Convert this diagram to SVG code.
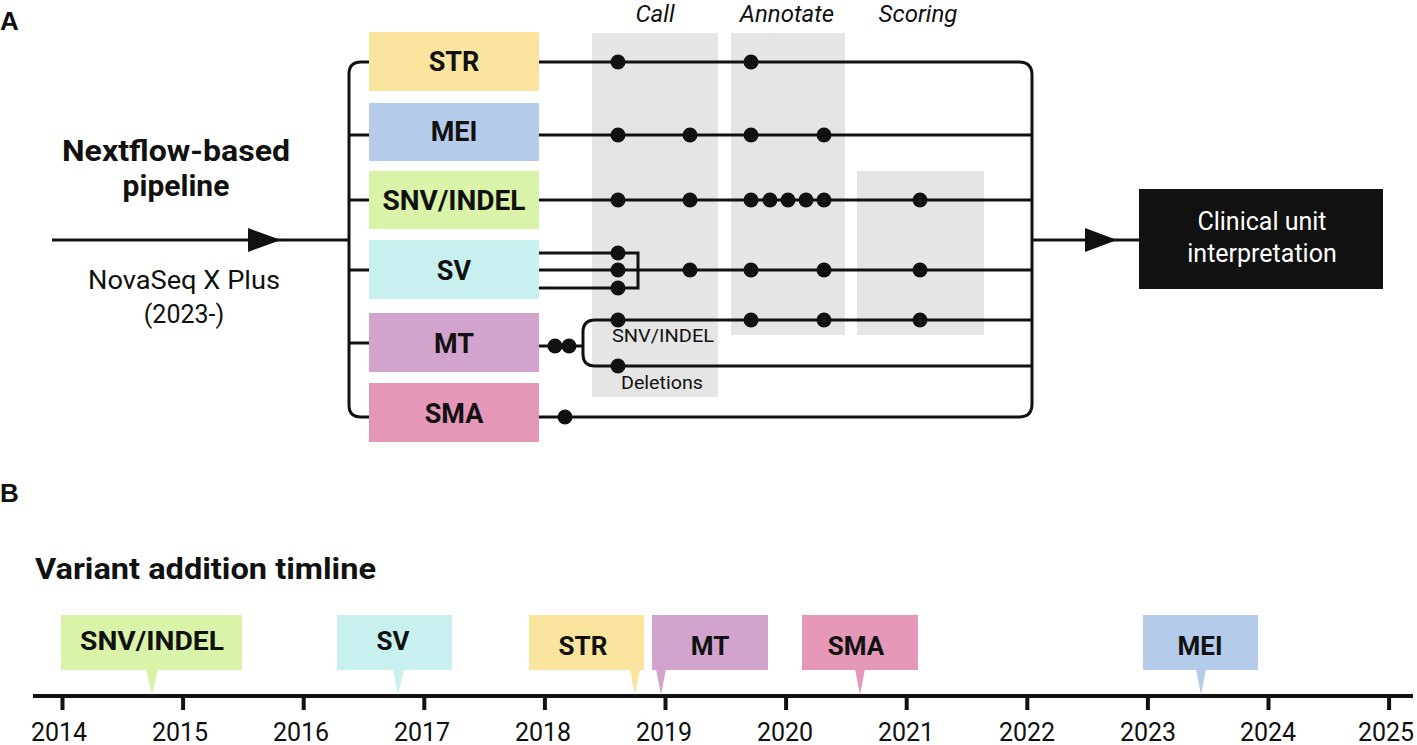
<svg xmlns="http://www.w3.org/2000/svg" width="1417" height="745" viewBox="0 0 1417 745">
<style>
  text { font-family: Roboto, "DejaVu Sans", sans-serif; fill: #111; }
  .lbl { font-family: "Liberation Sans", Arial, sans-serif; font-weight: bold; font-size: 26px; }
  .box { font-weight: bold; font-size: 27px; text-anchor: middle; }
  .tbox { font-weight: bold; font-size: 26px; text-anchor: middle; }
  .stage { font-style: italic; font-size: 24px; text-anchor: middle; }
  .small { font-size: 18px; }
  .year { font-size: 25px; text-anchor: middle; }
  .ln { fill: none; stroke: #111; stroke-width: 3; }
  .dot { fill: #111; }
  .panel { fill: #e5e5e5; }
  .str { fill: #fbe49d; } .mei { fill: #b4cbea; } .snv { fill: #d9f3a8; }
  .sv { fill: #c8f0ef; } .mt { fill: #d2a4cd; } .sma { fill: #e497b7; }
</style>
<rect width="1417" height="745" fill="#fff"/>

<!-- Panel A -->
<text class="lbl" x="0" y="30">A</text>

<g id="stage-panels">
  <rect class="panel" x="592" y="33" width="126" height="364"/>
  <rect class="panel" x="731" y="33" width="114" height="302"/>
  <rect class="panel" x="857" y="171" width="127" height="164"/>
  <text class="stage" x="655" y="22">Call</text>
  <text class="stage" x="787" y="22">Annotate</text>
  <text class="stage" x="918" y="22">Scoring</text>
</g>

<g id="pipeline-label">
  <text x="176" y="161" font-weight="bold" font-size="30" text-anchor="middle" textLength="228" lengthAdjust="spacingAndGlyphs">Nextflow-based</text>
  <text x="176" y="196" font-weight="bold" font-size="30" text-anchor="middle">pipeline</text>
  <text x="184" y="289" font-size="25" text-anchor="middle" textLength="192" lengthAdjust="spacingAndGlyphs">NovaSeq X Plus</text>
  <text x="184" y="323" font-size="25" text-anchor="middle">(2023-)</text>
</g>

<g id="connectors">
  <!-- input -->
  <path class="ln" d="M52,240 H349"/>
  <polygon points="248,228 281,240 248,252" fill="#111"/>
  <!-- left bracket -->
  <path class="ln" d="M369,62 H361 Q349,62 349,74 V405 Q349,417 361,417 H369"/>
  <path class="ln" d="M349,135 H369 M349,200 H369 M349,270 H369 M349,343 H369"/>
  <!-- STR -->
  <path class="ln" d="M539,62 H1019 Q1032,62 1032,75 V404 Q1032,417 1019,417 H539"/>
  <!-- MEI, SNV, SV -->
  <path class="ln" d="M539,135 H1032 M539,200 H1032 M539,270 H1032"/>
  <path class="ln" d="M539,253 H638 V288 H539"/>
  <!-- MT -->
  <path class="ln" d="M539,346 H583 M1032,320 H595 Q583,320 583,332 V354 Q583,366 595,366 H1032"/>
  <!-- output -->
  <path class="ln" d="M1032,240 H1139"/>
  <polygon points="1085,228 1117,240 1085,252" fill="#111"/>
  <!-- dots -->
  <g class="dot">
    <circle cx="618" cy="62" r="7.5"/><circle cx="751" cy="62" r="7.5"/>
    <circle cx="618" cy="135" r="7.5"/><circle cx="690" cy="135" r="7.5"/><circle cx="751" cy="135" r="7.5"/><circle cx="824" cy="135" r="7.5"/>
    <circle cx="618" cy="200" r="7.5"/><circle cx="690" cy="200" r="7.5"/><circle cx="751" cy="200" r="7.5"/><circle cx="770" cy="200" r="7.5"/><circle cx="788" cy="200" r="7.5"/><circle cx="806" cy="200" r="7.5"/><circle cx="824" cy="200" r="7.5"/><circle cx="920" cy="200" r="7.5"/>
    <circle cx="618" cy="253" r="7.5"/><circle cx="618" cy="270" r="7.5"/><circle cx="618" cy="288" r="7.5"/>
    <circle cx="690" cy="270" r="7.5"/><circle cx="751" cy="270" r="7.5"/><circle cx="824" cy="270" r="7.5"/><circle cx="920" cy="270" r="7.5"/>
    <circle cx="555" cy="346" r="7.5"/><circle cx="569" cy="346" r="7.5"/>
    <circle cx="618" cy="320" r="7.5"/><circle cx="751" cy="320" r="7.5"/><circle cx="824" cy="320" r="7.5"/><circle cx="920" cy="320" r="7.5"/>
    <circle cx="618" cy="366" r="7.5"/>
    <circle cx="565" cy="417" r="7.5"/>
  </g>
  <text class="small" x="612" y="342" textLength="102" lengthAdjust="spacingAndGlyphs">SNV/INDEL</text>
  <text class="small" x="621" y="389" textLength="82" lengthAdjust="spacingAndGlyphs">Deletions</text>
</g>

<g id="node-str"><rect class="str" x="369" y="32" width="170" height="59"/><text class="box" x="454" y="71">STR</text></g>
<g id="node-mei"><rect class="mei" x="369" y="103" width="170" height="58"/><text class="box" x="454" y="141">MEI</text></g>
<g id="node-snv"><rect class="snv" x="369" y="171" width="170" height="58"/><text class="box" x="454" y="210" textLength="143" lengthAdjust="spacingAndGlyphs">SNV/INDEL</text></g>
<g id="node-sv"><rect class="sv" x="369" y="240" width="170" height="59"/><text class="box" x="454" y="280">SV</text></g>
<g id="node-mt"><rect class="mt" x="369" y="313" width="170" height="59"/><text class="box" x="454" y="353">MT</text></g>
<g id="node-sma"><rect class="sma" x="369" y="383" width="170" height="59"/><text class="box" x="454" y="423">SMA</text></g>

<g id="node-clinical">
  <rect x="1139" y="189" width="244" height="100" fill="#111"/>
  <text x="1262" y="230" font-size="25" text-anchor="middle" style="fill:#fff">Clinical unit</text>
  <text x="1262" y="262" font-size="25" text-anchor="middle" style="fill:#fff">interpretation</text>
</g>

<!-- Panel B -->
<text class="lbl" x="0" y="502">B</text>
<text x="35" y="579" font-weight="bold" font-size="30" textLength="341" lengthAdjust="spacingAndGlyphs">Variant addition timline</text>

<g id="timeline-axis">
  <path d="M33,696 H1413" stroke="#111" stroke-width="4"/>
  <path stroke="#111" stroke-width="4" d="M62.5,696 V710 M183.1,696 V710 M303.7,696 V710 M424.3,696 V710 M544.9,696 V710 M665.5,696 V710 M786.1,696 V710 M906.7,696 V710 M1027.3,696 V710 M1147.9,696 V710 M1268.5,696 V710 M1389.1,696 V710"/>
  <text class="year" x="59" y="741">2014</text>
  <text class="year" x="180" y="741">2015</text>
  <text class="year" x="301" y="741">2016</text>
  <text class="year" x="422" y="741">2017</text>
  <text class="year" x="543" y="741">2018</text>
  <text class="year" x="664" y="741">2019</text>
  <text class="year" x="785" y="741">2020</text>
  <text class="year" x="906" y="741">2021</text>
  <text class="year" x="1027" y="741">2022</text>
  <text class="year" x="1148" y="741">2023</text>
  <text class="year" x="1268" y="741">2024</text>
  <text class="year" x="1386" y="741">2025</text>
</g>

<g id="t-snv"><rect class="snv" x="61" y="615" width="181" height="55"/><polygon class="snv" points="146,669 158,669 152,695"/><text class="tbox" x="152" y="650" textLength="144" lengthAdjust="spacingAndGlyphs">SNV/INDEL</text></g>
<g id="t-sv"><rect class="sv" x="337" y="615" width="115" height="55"/><polygon class="sv" points="393,669 404,669 398,695"/><text class="tbox" x="393" y="650">SV</text></g>
<g id="t-str"><rect class="str" x="529" y="615" width="115" height="55"/><polygon class="str" points="630,669 640,669 635,695"/><text class="tbox" x="583" y="655">STR</text></g>
<g id="t-mt"><rect class="mt" x="652" y="615" width="116" height="55"/><polygon class="mt" points="656,669 666,669 661,695"/><text class="tbox" x="710" y="655">MT</text></g>
<g id="t-sma"><rect class="sma" x="802" y="615" width="116" height="55"/><polygon class="sma" points="855,669 865,669 860,695"/><text class="tbox" x="856" y="655">SMA</text></g>
<g id="t-mei"><rect class="mei" x="1143" y="615" width="115" height="55"/><polygon class="mei" points="1196,669 1206,669 1201,695"/><text class="tbox" x="1200" y="655">MEI</text></g>
</svg>
